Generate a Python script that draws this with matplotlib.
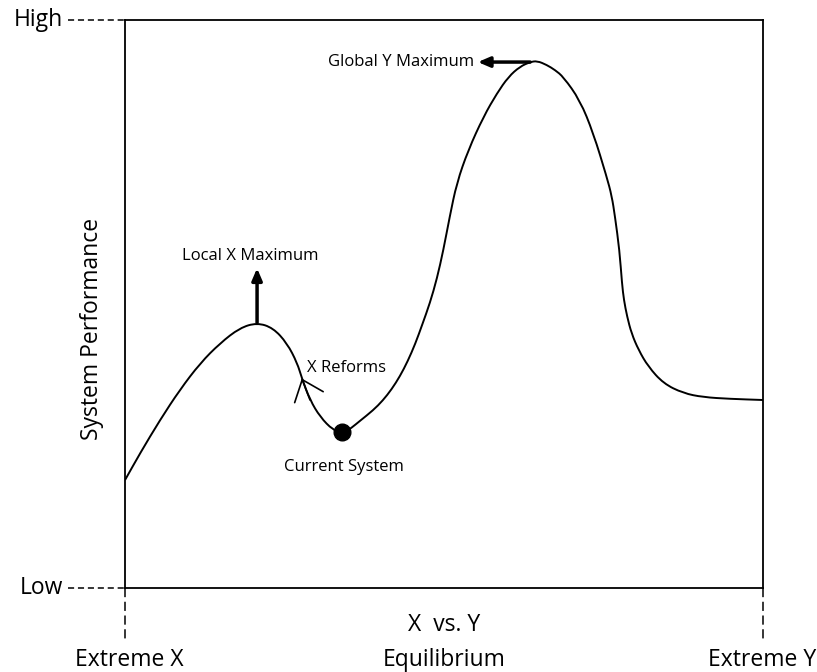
import matplotlib
matplotlib.use("Agg")
import matplotlib.pyplot as plt
from matplotlib.path import Path
from matplotlib.patches import PathPatch

# Curve (x: 0 = Extreme X, 100 = Extreme Y; y: 0 = Low, 100 = High)
curve_x = [0.0, 2.4, 5.5, 8.6, 11.8, 14.9, 18.0, 20.7, 23.2, 25.4,
           27.0, 27.7, 29.0, 30.6, 32.6, 34.2, 35.5, 36.8, 38.9, 40.4,
           41.8, 43.1, 44.3, 45.5, 46.6, 47.8, 48.9, 49.9, 50.9, 52.0,
           53.8, 56.2, 58.3, 60.1, 61.9, 63.5, 64.6, 66.1, 67.4, 68.7,
           71.3, 73.4, 75.5, 76.3, 76.8, 77.5, 77.9, 78.2, 78.7, 79.4,
           80.5, 82.0, 84.4, 87.5, 90.6, 94.8, 100.0]
curve_y = [19.0, 23.8, 29.6, 34.9, 39.6, 43.1, 45.8, 46.7, 45.8, 43.1,
           39.6, 37.0, 33.1, 30.1, 27.8, 27.2, 28.2, 29.4, 31.3, 33.0,
           35.0, 37.3, 39.9, 43.0, 46.4, 50.2, 54.5, 59.5, 65.4, 71.3,
           77.1, 83.0, 87.1, 90.0, 91.8, 92.6, 92.8, 92.1, 91.2, 90.0,
           85.9, 80.1, 72.4, 69.0, 65.4, 59.5, 53.6, 50.7, 47.8, 44.8,
           41.9, 39.0, 36.0, 34.3, 33.6, 33.3, 33.1]

current_system = (34.0, 27.5)
local_max = (20.7, 46.7)
global_max = (63.5, 92.6)
reform_tip = (27.7, 36.9)
reform_tail = (29.0, 33.1)

y_labels = ["Low", "High"]
x_labels = ["Extreme X", "Equilibrium", "Extreme Y"]


# rounded path through the read points (quadratic bezier between midpoints)
def smooth_path(xs, ys):
    pts = list(zip(xs, ys))
    verts = [pts[0]]
    codes = [Path.MOVETO]
    mid = ((pts[0][0] + pts[1][0]) / 2, (pts[0][1] + pts[1][1]) / 2)
    verts.append(mid)
    codes.append(Path.LINETO)
    for i in range(1, len(pts) - 1):
        nxt = ((pts[i][0] + pts[i + 1][0]) / 2, (pts[i][1] + pts[i + 1][1]) / 2)
        verts += [pts[i], nxt]
        codes += [Path.CURVE3, Path.CURVE3]
    verts.append(pts[-1])
    codes.append(Path.LINETO)
    return Path(verts, codes)


plt.rcParams["font.family"] = ["Open Sans", "DejaVu Sans"]

fig = plt.figure(figsize=(8.17, 6.72), dpi=100)
ax = fig.add_axes([0.1530, 0.125, 0.7809, 0.8452])
ax.set_xlim(0, 100)
ax.set_ylim(0, 100)
ax.set_xticks([])
ax.set_yticks([])
for sp in ax.spines.values():
    sp.set_linewidth(1.3)

ax.add_patch(PathPatch(smooth_path(curve_x, curve_y), facecolor="none",
                       edgecolor="black", lw=1.4))
ax.plot(*current_system, "o", color="black", ms=12)

# Arrows
ax.annotate("", xy=(local_max[0], 56.3), xytext=local_max,
            arrowprops=dict(arrowstyle="-|>,head_length=0.7,head_width=0.3",
                            color="black", lw=2.5, shrinkA=0, shrinkB=0))
ax.annotate("", xy=(55.3, global_max[1]), xytext=global_max,
            arrowprops=dict(arrowstyle="-|>,head_length=0.7,head_width=0.3",
                            color="black", lw=2.5, shrinkA=0, shrinkB=0))
ax.annotate("", xy=reform_tip, xytext=reform_tail,
            arrowprops=dict(arrowstyle="->,head_length=1.35,head_width=1.1",
                            color="black", lw=1.2, shrinkA=0, shrinkB=0))

# Labels on the curve
ax.text(19.7, 58.5, "Local X Maximum", ha="center", va="center", fontsize=12)
ax.text(54.8, global_max[1], "Global Y Maximum", ha="right", va="center", fontsize=12)
ax.text(28.5, 38.7, "X Reforms", ha="left", va="center", fontsize=12)
ax.text(34.3, 21.3, "Current System", ha="center", va="center", fontsize=12)

# Y axis ends
for yv, lab in zip([0, 100], y_labels):
    ax.plot([-8.9, 0], [yv, yv], color="black", lw=1.1, ls=(0, (4, 2.5)), clip_on=False)
    ax.text(-9.7, yv, lab, ha="right", va="center", fontsize=16.5)

# X axis ends
for xv in [0, 100]:
    ax.plot([xv, xv], [0, -9.7], color="black", lw=1.1, ls=(0, (6, 3)), clip_on=False)

ax.text(50, -6.5, "X  vs. Y", ha="center", va="center", fontsize=16.5)
for xv, lab in zip([0.6, 50.0, 99.8], x_labels):
    ax.text(xv, -12.6, lab, ha="center", va="center", fontsize=16.5)

ax.text(-5.2, 45.6, "System Performance", rotation=90, ha="center", va="center",
        fontsize=16.5)

fig.savefig("out.png", dpi=100)
